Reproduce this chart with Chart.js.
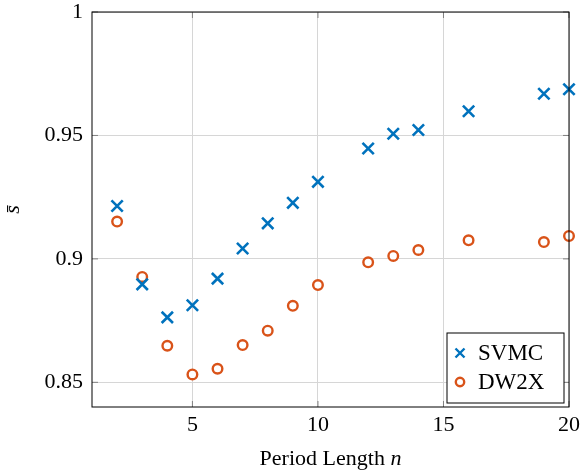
<!DOCTYPE html>
<html>
<head>
<meta charset="utf-8">
<script src="https://cdn.jsdelivr.net/npm/chart.js@4.4.1/dist/chart.umd.min.js"></script>
<style>
  html, body { margin: 0; padding: 0; background: #fff; }
  #wrap { width: 582px; height: 472px; }
</style>
</head>
<body>
<div id="wrap"><canvas id="chart"></canvas></div>
<script>
const periods = [2, 3, 4, 5, 6, 7, 8, 9, 10, 12, 13, 14, 16, 19, 20];
const svmc = [0.9214, 0.8897, 0.8763, 0.8812, 0.8920, 0.9042, 0.9144, 0.9227, 0.9312,
              0.9447, 0.9507, 0.9522, 0.9598, 0.9669, 0.9687];
const dw2x = [0.9151, 0.8927, 0.8648, 0.8532, 0.8555, 0.8651, 0.8709, 0.8810, 0.8894,
              0.8986, 0.9012, 0.9036, 0.9075, 0.9068, 0.9093];
const xTicks = [5, 10, 15, 20];
const yTicks = [0.85, 0.9, 0.95, 1];

const blue = '#0072BD';
const orange = '#D95319';
const serif = "'Liberation Serif', 'DejaVu Serif', serif";

const toPoints = vals => periods.map((p, i) => ({ x: p, y: vals[i] }));

// frame, inward tick marks, legend box and x title
const decor = {
  id: 'decor',
  afterDraw(chart) {
    const { ctx, chartArea: a, scales } = chart;
    ctx.save();
    ctx.strokeStyle = '#808080';
    ctx.lineWidth = 1;
    xTicks.forEach(t => {
      const x = scales.x.getPixelForValue(t);
      ctx.beginPath();
      ctx.moveTo(x, a.bottom); ctx.lineTo(x, a.bottom - 6);
      ctx.moveTo(x, a.top); ctx.lineTo(x, a.top + 6);
      ctx.stroke();
    });
    yTicks.forEach(t => {
      const y = scales.y.getPixelForValue(t);
      ctx.beginPath();
      ctx.moveTo(a.left, y); ctx.lineTo(a.left + 6, y);
      ctx.moveTo(a.right, y); ctx.lineTo(a.right - 6, y);
      ctx.stroke();
    });
    ctx.strokeStyle = '#000';
    ctx.strokeRect(a.left, a.top, a.right - a.left, a.bottom - a.top);

    // legend
    const lw = 117, lh = 70;
    const lx = a.right - 5 - lw, ly = a.bottom - 4 - lh;
    ctx.fillStyle = '#fff';
    ctx.fillRect(lx, ly, lw, lh);
    ctx.strokeStyle = '#000';
    ctx.lineWidth = 1;
    ctx.strokeRect(lx, ly, lw, lh);
    ctx.font = '23px ' + serif;
    ctx.textBaseline = 'middle';
    ctx.textAlign = 'left';
    chart.data.datasets.forEach((ds, i) => {
      const cy = ly + 20 + i * 29;
      const cx = lx + 13;
      ctx.strokeStyle = ds.borderColor;
      ctx.lineWidth = 2.4;
      ctx.beginPath();
      if (ds.pointStyle === 'cross') {
        ctx.moveTo(cx - 4.5, cy - 4.5); ctx.lineTo(cx + 4.5, cy + 4.5);
        ctx.moveTo(cx + 4.5, cy - 4.5); ctx.lineTo(cx - 4.5, cy + 4.5);
      } else {
        ctx.arc(cx, cy, 4.2, 0, Math.PI * 2);
      }
      ctx.stroke();
      ctx.fillStyle = '#000';
      ctx.fillText(ds.label, lx + 31, cy + 1);
    });

    // x axis title with italic n
    ctx.fillStyle = '#000';
    ctx.textBaseline = 'alphabetic';
    const main = 'Period Length ';
    ctx.font = '22px ' + serif;
    const w1 = ctx.measureText(main).width;
    ctx.font = 'italic 22px ' + serif;
    const w2 = ctx.measureText('n').width;
    const sx = (a.left + a.right) / 2 - (w1 + w2) / 2;
    ctx.font = '22px ' + serif;
    ctx.fillText(main, sx, 465);
    ctx.font = 'italic 22px ' + serif;
    ctx.fillText('n', sx + w1, 465);
    ctx.restore();
  }
};

new Chart(document.getElementById('chart'), {
  type: 'scatter',
  data: {
    datasets: [
      {
        label: 'SVMC',
        data: toPoints(svmc),
        pointStyle: 'cross',
        rotation: 45,
        radius: 8,
        borderColor: blue,
        backgroundColor: blue,
        borderWidth: 2.6,
        clip: false
      },
      {
        label: 'DW2X',
        data: toPoints(dw2x),
        pointStyle: 'circle',
        radius: 4.8,
        borderColor: orange,
        backgroundColor: '#fff',
        borderWidth: 2.4,
        clip: false
      }
    ]
  },
  options: {
    responsive: true,
    maintainAspectRatio: false,
    animation: false,
    events: [],
    layout: { padding: { top: 12, right: 13, left: 0, bottom: 0 } },
    plugins: {
      legend: { display: false },
      tooltip: { enabled: false }
    },
    scales: {
      x: {
        type: 'linear',
        min: 1,
        max: 20,
        afterBuildTicks: s => { s.ticks = xTicks.map(v => ({ value: v })); },
        afterFit: s => { s.height = 65; s.paddingLeft = 0; s.paddingRight = 0; },
        ticks: {
          color: '#000',
          font: { family: serif, size: 22 },
          padding: 5,
          maxRotation: 0
        },
        grid: { color: '#d6d6d6', lineWidth: 1, drawTicks: false },
        border: { display: false }
      },
      y: {
        min: 0.84,
        max: 1,
        afterBuildTicks: s => { s.ticks = yTicks.map(v => ({ value: v })); },
        afterFit: s => { s.width = 92; s.paddingTop = 0; s.paddingBottom = 0; },
        ticks: {
          color: '#000',
          font: { family: serif, size: 22 },
          padding: 9,
          callback: v => String(v)
        },
        grid: { color: '#d6d6d6', lineWidth: 1, drawTicks: false },
        border: { display: false },
        title: {
          display: true,
          text: 's\u0304',
          color: '#000',
          font: { family: serif, size: 22, style: 'italic' },
          padding: { top: 0, bottom: 26 }
        }
      }
    }
  },
  plugins: [decor]
});
</script>
</body>
</html>
